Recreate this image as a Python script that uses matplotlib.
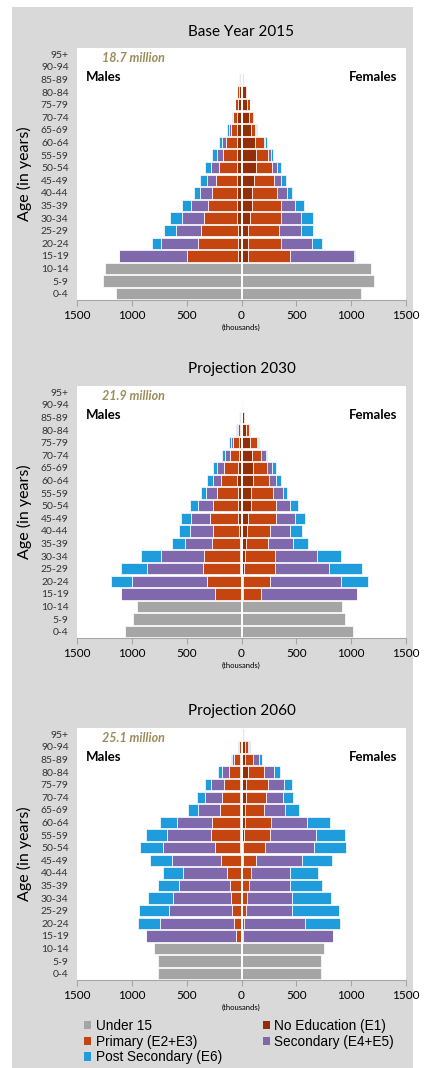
import numpy as np
import matplotlib
matplotlib.use("Agg")
import matplotlib.pyplot as plt
from matplotlib.patches import Rectangle, Patch
from matplotlib.ticker import FuncFormatter

# Age groups, bottom to top
ages = ["0-4", "5-9", "10-14", "15-19", "20-24", "25-29", "30-34", "35-39",
        "40-44", "45-49", "50-54", "55-59", "60-64", "65-69", "70-74",
        "75-79", "80-84", "85-89", "90-94", "95+"]

legend_labels = ["Under 15", "No Education (E1)", "Primary (E2+E3)",
                 "Secondary (E4+E5)", "Post Secondary (E6)"]

# ---- 2015 (thousands) ----
u15_m_2015 = [1144, 1263, 1241]
u15_f_2015 = [1089, 1205, 1180]
# rows 15-19 ... 95+
m_e1_2015 = [36, 36, 36, 43, 43, 43, 43, 43, 43, 43, 43, 40, 30, 22, 10, 2, 0.5]
m_e23_2015 = [460, 363, 329, 298, 264, 225, 188, 161, 124, 97, 54, 33, 25, 16, 8, 2, 0.5]
m_e45_2015 = [617, 334, 234, 204, 155, 112, 85, 76, 52, 36, 18, 9, 3, 2, 1, 1, 0]
m_e6_2015 = [7, 85, 110, 103, 80, 52, 64, 57, 46, 31, 16, 9, 4, 1, 1, 1, 0]
f_e1_2015 = [55, 55, 55, 79, 94, 100, 110, 128, 128, 122, 84, 67, 54, 43, 15, 3, 1]
f_e23_2015 = [383, 301, 283, 280, 262, 222, 182, 146, 112, 79, 41, 36, 22, 7, 5, 2, 0]
f_e45_2015 = [590, 283, 200, 183, 131, 89, 64, 48, 25, 17, 9, 7, 2, 1, 1, 1, 0]
f_e6_2015 = [9, 94, 113, 106, 79, 51, 49, 37, 19, 10, 9, 2, 1, 1, 0, 2, 0]

# ---- 2030 ----
u15_m_2030 = [1059, 986, 955]
u15_f_2030 = [1013, 943, 913]
m_e1_2030 = [8, 8, 15, 12, 15, 20, 28, 33, 36, 38, 36, 27, 24, 12, 6, 2, 1]
m_e23_2030 = [238, 308, 335, 326, 250, 242, 255, 229, 189, 151, 122, 82, 49, 21, 12, 5, 1]
m_e45_2030 = [849, 685, 514, 392, 246, 206, 179, 137, 97, 73, 61, 43, 21, 7, 2, 1, 0]
m_e6_2030 = [0, 189, 231, 186, 122, 98, 92, 68, 49, 51, 42, 27, 18, 9, 1, 1, 0]
f_e1_2030 = [10, 12, 20, 30, 40, 50, 60, 90, 91, 102, 103, 97, 79, 43, 20, 5, 1]
f_e23_2030 = [169, 250, 290, 280, 203, 212, 256, 226, 198, 153, 131, 85, 61, 24, 12, 5, 2]
f_e45_2030 = [871, 645, 487, 378, 229, 182, 168, 125, 85, 64, 43, 40, 12, 3, 2, 1, 0]
f_e6_2030 = [0, 249, 304, 222, 130, 107, 97, 73, 41, 38, 36, 9, 9, 6, 2, 1, 0]

# ---- 2060 ----
u15_m_2060 = [758, 758, 794]
u15_f_2060 = [721, 721, 754]
m_e1_2060 = [5, 5, 6, 6, 6, 8, 8, 12, 15, 18, 18, 12, 12, 12, 15, 6, 2]
m_e23_2060 = [41, 59, 79, 94, 100, 123, 175, 234, 259, 247, 182, 167, 152, 104, 52, 16, 3]
m_e45_2060 = [827, 675, 572, 521, 460, 404, 453, 466, 407, 325, 201, 152, 116, 60, 18, 4, 0.5]
m_e6_2060 = [0, 207, 274, 234, 198, 180, 195, 210, 192, 149, 91, 76, 57, 37, 13, 4, 0.5]
f_e1_2060 = [3, 4, 5, 6, 8, 8, 10, 18, 21, 30, 33, 43, 43, 55, 36, 30, 5]
f_e23_2060 = [15, 23, 38, 46, 62, 80, 124, 192, 241, 241, 171, 176, 197, 146, 73, 25, 13]
f_e45_2060 = [813, 548, 422, 404, 368, 350, 417, 447, 419, 328, 197, 158, 143, 91, 51, 15, 2]
f_e6_2060 = [0, 322, 426, 362, 298, 262, 273, 295, 262, 204, 119, 93, 81, 55, 25, 12, 2]

titles = ["Base Year 2015", "Projection 2030", "Projection 2060"]
totals = ["18.7 million", "21.9 million", "25.1 million"]

GRAY = "#A5A5A5"
E1 = "#922F08"
E23 = "#C4450F"
E45 = "#8068AC"
E6 = "#1E9CDC"
GOLD = "#9E8C5B"
BG = "#D9D9D9"
FONT = "Lato"

panels = [
    (u15_m_2015, u15_f_2015, [m_e1_2015, m_e23_2015, m_e45_2015, m_e6_2015],
     [f_e1_2015, f_e23_2015, f_e45_2015, f_e6_2015]),
    (u15_m_2030, u15_f_2030, [m_e1_2030, m_e23_2030, m_e45_2030, m_e6_2030],
     [f_e1_2030, f_e23_2030, f_e45_2030, f_e6_2030]),
    (u15_m_2060, u15_f_2060, [m_e1_2060, m_e23_2060, m_e45_2060, m_e6_2060],
     [f_e1_2060, f_e23_2060, f_e45_2060, f_e6_2060]),
]

W, H = 426, 1068
fig = plt.figure(figsize=(W / 100, H / 100), dpi=100, facecolor="white")
fig.patches.append(Rectangle((12 / W, 0), 401 / W, 1 - 7 / H, transform=fig.transFigure,
                             facecolor=BG, edgecolor="none", zorder=-10))

tops = [48, 386, 728]
ax_h = 252
y = np.arange(len(ages))

for k, (top, (u_m, u_f, m_lv, f_lv)) in enumerate(zip(tops, panels)):
    ax = fig.add_axes([77 / W, 1 - (top + ax_h) / H, 329 / W, ax_h / H])
    ax.set_facecolor("white")
    bh = 0.92
    # under 15
    ax.barh(y[:3], [-v for v in u_m], height=bh, color=GRAY, edgecolor="white", lw=0.5)
    ax.barh(y[:3], u_f, height=bh, color=GRAY, edgecolor="white", lw=0.5)
    yy = y[3:]
    cm = np.zeros(len(yy))
    cf = np.zeros(len(yy))
    for col, mv, fv in zip([E1, E23, E45, E6], m_lv, f_lv):
        mv = np.array(mv, dtype=float)
        fv = np.array(fv, dtype=float)
        ax.barh(yy, -mv, left=-cm, height=bh, color=col, edgecolor="#FFFFFF", lw=0.5)
        ax.barh(yy, fv, left=cf, height=bh, color=col, edgecolor="#FFFFFF", lw=0.5)
        cm += mv
        cf += fv
    ax.axvline(0, color="white", lw=1.4, zorder=5)

    ax.set_xlim(-1500, 1500)
    ax.set_ylim(-0.5, len(ages) - 0.5)
    ax.set_yticks(y)
    ax.set_yticklabels(ages, fontsize=7.5, family=FONT, color="#333333")
    ax.tick_params(axis="y", length=0, pad=6)
    ax.set_xticks([-1500, -1000, -500, 0, 500, 1000, 1500])
    ax.xaxis.set_major_formatter(FuncFormatter(lambda v, p: f"{abs(int(v))}"))
    ax.tick_params(axis="x", length=4, color="#A6A6A6", labelsize=8.5, pad=3)
    for lab in ax.get_xticklabels():
        lab.set_family(FONT)
    for s in ["top", "left", "right"]:
        ax.spines[s].set_visible(False)
    ax.spines["bottom"].set_color("#A6A6A6")
    ax.set_xlabel("(thousands)", fontsize=5.5, family=FONT, labelpad=2)
    ax.set_ylabel("Age (in years)", fontsize=11.5, family=FONT, labelpad=6)
    ax.set_title(titles[k], fontsize=11, family=FONT, pad=9)

    ax.text(-1415, 0.885, "Males", transform=ax.get_xaxis_transform(),
            fontsize=9.5, fontweight="bold", family=FONT, va="center", ha="left")
    ax.text(1418, 0.885, "Females", transform=ax.get_xaxis_transform(),
            fontsize=9.5, fontweight="bold", family=FONT, va="center", ha="right")
    ax.text(-1270, 0.96, totals[k], transform=ax.get_xaxis_transform(),
            fontsize=9, fontweight="bold", style="italic", color=GOLD,
            family=FONT, va="center", ha="left")

# legend: order so that rows read Under 15 / No Education, Primary / Secondary, Post Secondary
colors = [GRAY, E1, E23, E45, E6]
order = [0, 2, 4, 1, 3]
handles = [Patch(facecolor=colors[i], edgecolor="none", label=legend_labels[i]) for i in order]
fig.legend(handles=handles, loc="upper left", bbox_to_anchor=(84 / W, 1 - 1019 / H),
           ncol=2, frameon=False, prop={"family": "Liberation Sans", "size": 9.8},
           handlelength=0.55, handleheight=0.55, handletextpad=0.3,
           columnspacing=3.0, labelspacing=0.12, borderpad=0, borderaxespad=0)

fig.savefig("out.png", dpi=100, facecolor="white")
